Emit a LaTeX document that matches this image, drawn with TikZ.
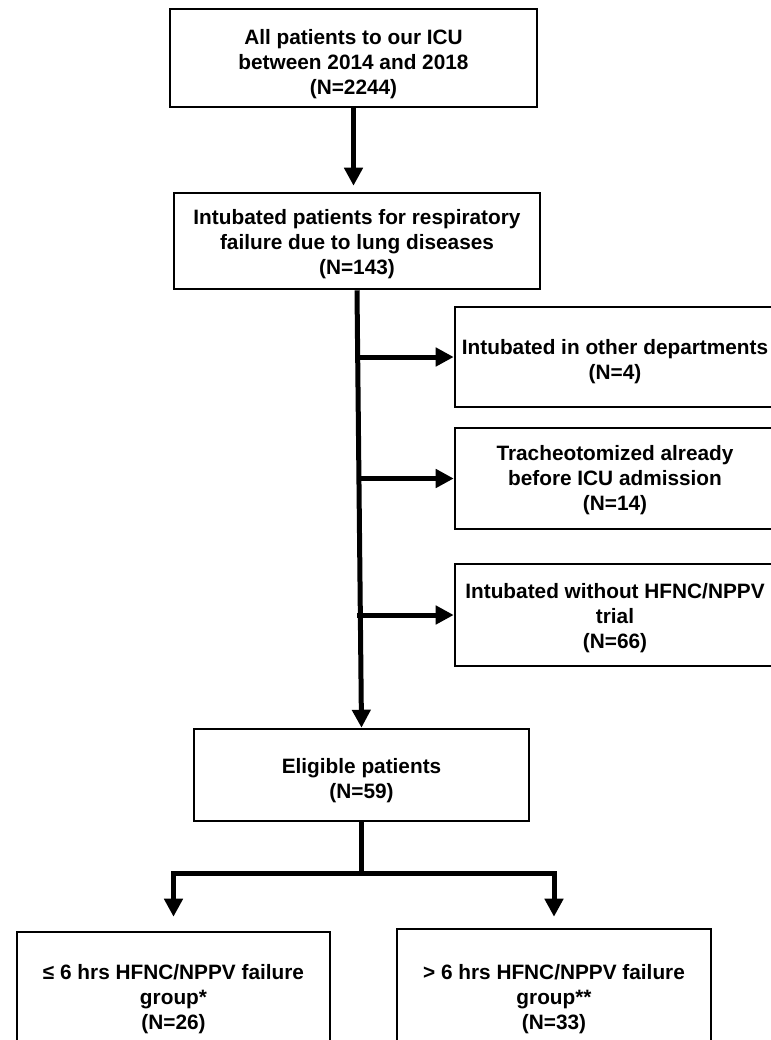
\documentclass[tikz,border=0pt]{standalone}
\usepackage{fontspec}
\setmainfont{Liberation Sans}
\usetikzlibrary{arrows.meta}
\tikzset{
  box/.style={draw, line width=1.9pt, inner sep=0pt},
  txt/.style={inner sep=0pt, align=center,
    font=\bfseries\fontsize{15.6pt}{18.75pt}\selectfont},
  arr/.style={line width=3.75pt, -{Triangle[length=13.5pt,width=13.5pt]}},
  ln/.style={line width=3.75pt}
}
\begin{document}
\begin{tikzpicture}[x=0.75pt,y=-0.75pt]
\path[use as bounding box, fill=white] (0,0) rectangle (771,1040);
\clip (0,0) rectangle (771,1040);
\node[box, minimum width=275.25pt, minimum height=73.5pt,
  label={[txt,yshift=-4.5pt]center:{All patients to our ICU\\between 2014 and 2018\\(N=2244)}}]
  (all) at (353.5,58) {};
\node[box, minimum width=274.5pt, minimum height=72pt,
  label={[txt,yshift=-2.25pt]center:{Intubated patients for respiratory\\failure due to lung diseases\\(N=143)}}]
  (intub) at (357,241) {};
\node[box, minimum width=240pt, minimum height=75pt,
  label={[txt,yshift=-3.75pt]center:{Intubated in other departments\\(N=4)}}]
  (other) at (615,357) {};
\node[box, minimum width=240pt, minimum height=75.75pt,
  label={[txt,yshift=-1.5pt]center:{Tracheotomized already\\before ICU admission\\(N=14)}}]
  (trach) at (615,478.5) {};
\node[box, minimum width=240pt, minimum height=76.5pt,
  label={[txt,yshift=-2.25pt]center:{Intubated without HFNC/NPPV\\trial\\(N=66)}}]
  (without) at (615,615) {};
\node[box, minimum width=251.25pt, minimum height=69pt,
  label={[txt,yshift=-4.5pt]center:{Eligible patients\\(N=59)}}]
  (elig) at (361.5,775) {};
\node[box, minimum width=234.75pt, minimum height=97.5pt,
  label={[txt,yshift=-1.5pt]center:{≤ 6 hrs HFNC/NPPV failure\\group*\\(N=26)}}]
  (early) at (173.5,997) {};
\node[box, minimum width=235.5pt, minimum height=102pt,
  label={[txt,yshift=-1.5pt]center:{> 6 hrs HFNC/NPPV failure\\group**\\(N=33)}}]
  (late) at (554,997) {};

\draw[arr, shorten >=4.5pt] (all.south) -- (all.south |- intub.north);
\draw[arr] (intub.south) -- (elig.north);
\foreach \n in {other,trach,without}
  \draw[arr] (intub.south |- \n.west) -- (\n.west);
\draw[ln] (elig.south) -- ++(0,51) coordinate (split);
\draw[arr, shorten >=10.5pt] (split) -| (early.north);
\draw[arr, shorten >=8.25pt] (split) -| (late.north);
\end{tikzpicture}
\end{document}
